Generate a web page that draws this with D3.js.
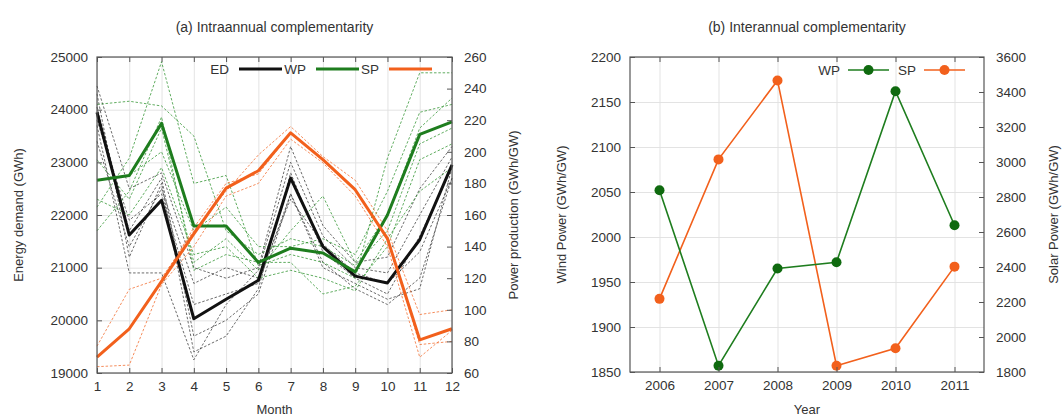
<!DOCTYPE html>
<html>
<head>
<meta charset="utf-8">
<script src="https://cdn.jsdelivr.net/npm/d3@7"></script>
<style>
  body { margin: 0; background: #fff; }
  svg text { font-family: "Liberation Sans", Arial, Helvetica, sans-serif; fill: #333; }
</style>
</head>
<body>
<svg id="chart" width="1062" height="416"></svg>
<script>
// ---- (a) Intraannual: monthly means ----
const months = [1, 2, 3, 4, 5, 6, 7, 8, 9, 10, 11, 12];
const edMean = [23950, 21620, 22280, 20030, 20400, 20760, 22700, 21400, 20840, 20710, 21530, 22950]; // GWh
const wpMean = [182, 185, 218, 153, 153, 130, 139, 136, 124, 160, 211, 219]; // GWh/GW
const spMean = [70, 88, 118, 148, 177, 188, 212, 195, 176, 145, 81, 88];     // GWh/GW

// individual years (thin dashed)
const edYears = [
  [24450, 22500, 22800, 21000, 20800, 21000, 23300, 21800, 21100, 21200, 22500, 23300],
  [24300, 21200, 22600, 19400, 19700, 20600, 22800, 21300, 20800, 20500, 21600, 22900],
  [23800, 21900, 22400, 20300, 20500, 20700, 22400, 21100, 20600, 20300, 20800, 22700],
  [23700, 20900, 20900, 19250, 20300, 20950, 23000, 21600, 21000, 20900, 22000, 23100],
  [23400, 21400, 22500, 20700, 21000, 20800, 22300, 21450, 20900, 20700, 21300, 22700],
  [24050, 21700, 22700, 19700, 20000, 20500, 22400, 21000, 20700, 20400, 20600, 22900]
];
const wpYears = [
  [230, 232, 229, 210, 150, 135, 145, 140, 128, 150, 205, 215],
  [165, 196, 257, 180, 185, 128, 135, 130, 120, 196, 250, 250],
  [195, 170, 215, 130, 145, 125, 150, 172, 130, 160, 215, 234],
  [182, 185, 200, 150, 165, 140, 140, 145, 135, 175, 225, 230],
  [150, 175, 222, 125, 135, 130, 130, 110, 115, 140, 195, 205],
  [170, 160, 190, 135, 140, 120, 125, 120, 112, 145, 175, 190]
];
const spYears = [
  [77, 113, 120, 150, 175, 198, 216, 197, 182, 150, 97, 100],
  [64, 65, 116, 140, 172, 180, 208, 193, 172, 140, 70, 87],
  [70, 88, 118, 152, 180, 186, 212, 195, 176, 146, 78, 80]
];
const edTicks = [19000, 20000, 21000, 22000, 23000, 24000, 25000];
const powerTicks = [60, 80, 100, 120, 140, 160, 180, 200, 220, 240, 260];

// ---- (b) Interannual: yearly values ----
const years = [2006, 2007, 2008, 2009, 2010, 2011];
const wpAnnual = [2052, 1857, 1965, 1972, 2162, 2013];
const spAnnual = [2218, 3015, 3466, 1836, 1936, 2402];
const windTicks = [1850, 1900, 1950, 2000, 2050, 2100, 2150, 2200];
const solarTicks = [1800, 2000, 2200, 2400, 2600, 2800, 3000, 3200, 3400, 3600];

const BLACK = "#111", GREEN = "#1e7d1e", ORANGE = "#f2601c";
const GRID = "#e0e0e0", FRAME = "#555";

const svg = d3.select("#chart");

function drawFrame(g, x0, x1, y0, y1, xScale, xTicks, yL, yLTicks, yR, yRTicks, fmtX) {
  const w = x1 - x0, h = y1 - y0;
  // grid
  g.append("g").attr("transform", `translate(0,${y1})`)
    .call(d3.axisBottom(xScale).tickValues(xTicks).tickSize(-h).tickFormat(""))
    .call(s => { s.select(".domain").remove(); s.selectAll("line").attr("stroke", GRID).attr("stroke-width", 0.9); });
  g.append("g").attr("transform", `translate(${x0},0)`)
    .call(d3.axisLeft(yL).tickValues(yLTicks).tickSize(-w).tickFormat(""))
    .call(s => { s.select(".domain").remove(); s.selectAll("line").attr("stroke", GRID).attr("stroke-width", 0.9); });
}

function drawAxes(g, x0, x1, y0, y1, xScale, xTicks, yL, yLTicks, yR, yRTicks, fmtX) {
  const style = s => {
    s.select(".domain").remove();
    s.selectAll("line").attr("stroke", FRAME);
    s.selectAll("text").attr("font-size", 13.5).attr("fill", "#333")
      .attr("font-family", '"Liberation Sans", Arial, sans-serif');
  };
  g.append("g").attr("transform", `translate(0,${y1})`)
    .call(d3.axisBottom(xScale).tickValues(xTicks).tickSize(-5).tickPadding(8).tickFormat(fmtX)).call(style);
  g.append("g").attr("transform", `translate(0,${y0})`)
    .call(d3.axisTop(xScale).tickValues(xTicks).tickSize(-5).tickFormat("")).call(style);
  g.append("g").attr("transform", `translate(${x0},0)`)
    .call(d3.axisLeft(yL).tickValues(yLTicks).tickSize(-5).tickPadding(9).tickFormat(d3.format("d"))).call(style);
  g.append("g").attr("transform", `translate(${x1},0)`)
    .call(d3.axisRight(yR).tickValues(yRTicks).tickSize(-5).tickPadding(12).tickFormat(d3.format("d"))).call(style);
  g.append("rect").attr("x", x0).attr("y", y0).attr("width", x1 - x0).attr("height", y1 - y0)
    .attr("fill", "none").attr("stroke", FRAME).attr("stroke-width", 1.2);
}

// ================= panel (a) =================
{
  const x0 = 97, x1 = 452, y0 = 57, y1 = 373;
  const x = d3.scaleLinear().domain([1, 12]).range([x0, x1]);
  const yE = d3.scaleLinear().domain([19000, 25000]).range([y1, y0]);
  const yP = d3.scaleLinear().domain([60, 260]).range([y1, y0]);
  const g = svg.append("g");

  drawFrame(g, x0, x1, y0, y1, x, months, yE, edTicks);

  const lineE = d3.line().x((d, i) => x(months[i])).y(d => yE(d));
  const lineP = d3.line().x((d, i) => x(months[i])).y(d => yP(d));

  const thin = (data, gen, color, op) => g.append("g").selectAll("path").data(data).join("path")
    .attr("d", gen).attr("fill", "none").attr("stroke", color).attr("stroke-width", 0.9)
    .attr("stroke-dasharray", "2.5,1.8").attr("opacity", op);
  thin(edYears, lineE, "#222", 0.75);
  thin(wpYears, lineP, "#2f932f", 0.85);
  thin(spYears, lineP, "#f26a2c", 0.85);

  const thick = (data, gen, color) => g.append("path").datum(data).attr("d", gen)
    .attr("fill", "none").attr("stroke", color).attr("stroke-width", 3).attr("stroke-linejoin", "round");
  thick(edMean, lineE, BLACK);
  thick(wpMean, lineP, GREEN);
  thick(spMean, lineP, ORANGE);

  drawAxes(g, x0, x1, y0, y1, x, months, yE, edTicks, yP, powerTicks, d3.format("d"));

  // legend
  const leg = [["ED", BLACK, 229], ["WP", GREEN, 306], ["SP", ORANGE, 379]];
  leg.forEach(([t, c, xe]) => {
    g.append("text").attr("x", xe).attr("y", 69).attr("dy", "0.35em").attr("text-anchor", "end")
      .attr("font-size", 13.5).text(t);
    g.append("line").attr("x1", xe + 10).attr("x2", xe + 53).attr("y1", 69).attr("y2", 69)
      .attr("stroke", c).attr("stroke-width", 3);
  });

  g.append("text").attr("x", (x0 + x1) / 2).attr("y", 27).attr("dy", "0.35em")
    .attr("text-anchor", "middle").attr("font-size", 14).text("(a) Intraannual complementarity");
  g.append("text").attr("x", (x0 + x1) / 2).attr("y", 409).attr("dy", "0.35em")
    .attr("text-anchor", "middle").attr("font-size", 13).text("Month");
  g.append("text").attr("transform", `translate(18,${(y0 + y1) / 2}) rotate(-90)`).attr("dy", "0.35em")
    .attr("text-anchor", "middle").attr("font-size", 13).text("Energy demand (GWh)");
  g.append("text").attr("transform", `translate(513,${(y0 + y1) / 2}) rotate(-90)`).attr("dy", "0.35em")
    .attr("text-anchor", "middle").attr("font-size", 13).text("Power production (GWh/GW)");
}

// ================= panel (b) =================
{
  const x0 = 630, x1 = 984, y0 = 57, y1 = 372;
  const x = d3.scaleLinear().domain([2005.5, 2011.5]).range([x0, x1]);
  const yW = d3.scaleLinear().domain([1850, 2200]).range([y1, y0]);
  const yS = d3.scaleLinear().domain([1800, 3600]).range([y1, y0]);
  const g = svg.append("g");

  drawFrame(g, x0, x1, y0, y1, x, years, yW, windTicks);

  const lineW = d3.line().x((d, i) => x(years[i])).y(d => yW(d));
  const lineS = d3.line().x((d, i) => x(years[i])).y(d => yS(d));

  g.append("path").datum(spAnnual).attr("d", lineS).attr("fill", "none").attr("stroke", ORANGE).attr("stroke-width", 1.6);
  g.append("path").datum(wpAnnual).attr("d", lineW).attr("fill", "none").attr("stroke", GREEN).attr("stroke-width", 1.6);
  g.append("g").selectAll("circle").data(spAnnual).join("circle")
    .attr("cx", (d, i) => x(years[i])).attr("cy", d => yS(d)).attr("r", 5).attr("fill", ORANGE);
  g.append("g").selectAll("circle").data(wpAnnual).join("circle")
    .attr("cx", (d, i) => x(years[i])).attr("cy", d => yW(d)).attr("r", 5).attr("fill", "#0f6a0f");

  drawAxes(g, x0, x1, y0, y1, x, years, yW, windTicks, yS, solarTicks, d3.format("d"));

  const leg = [["WP", GREEN, "#0f6a0f", 840], ["SP", ORANGE, ORANGE, 916]];
  leg.forEach(([t, c, m, xe]) => {
    g.append("text").attr("x", xe).attr("y", 70).attr("dy", "0.35em").attr("text-anchor", "end")
      .attr("font-size", 13.5).text(t);
    g.append("line").attr("x1", xe + 8).attr("x2", xe + 49).attr("y1", 70).attr("y2", 70)
      .attr("stroke", c).attr("stroke-width", 1.6);
    g.append("circle").attr("cx", xe + 28.5).attr("cy", 70).attr("r", 5).attr("fill", m);
  });

  g.append("text").attr("x", (x0 + x1) / 2).attr("y", 27).attr("dy", "0.35em")
    .attr("text-anchor", "middle").attr("font-size", 14).text("(b) Interannual complementarity");
  g.append("text").attr("x", (x0 + x1) / 2).attr("y", 409).attr("dy", "0.35em")
    .attr("text-anchor", "middle").attr("font-size", 13).text("Year");
  g.append("text").attr("transform", `translate(561,${(y0 + y1) / 2}) rotate(-90)`).attr("dy", "0.35em")
    .attr("text-anchor", "middle").attr("font-size", 13).text("Wind Power (GWh/GW)");
  g.append("text").attr("transform", `translate(1053,${(y0 + y1) / 2}) rotate(-90)`).attr("dy", "0.35em")
    .attr("text-anchor", "middle").attr("font-size", 13).text("Solar Power (GWh/GW)");
}
</script>
</body>
</html>
